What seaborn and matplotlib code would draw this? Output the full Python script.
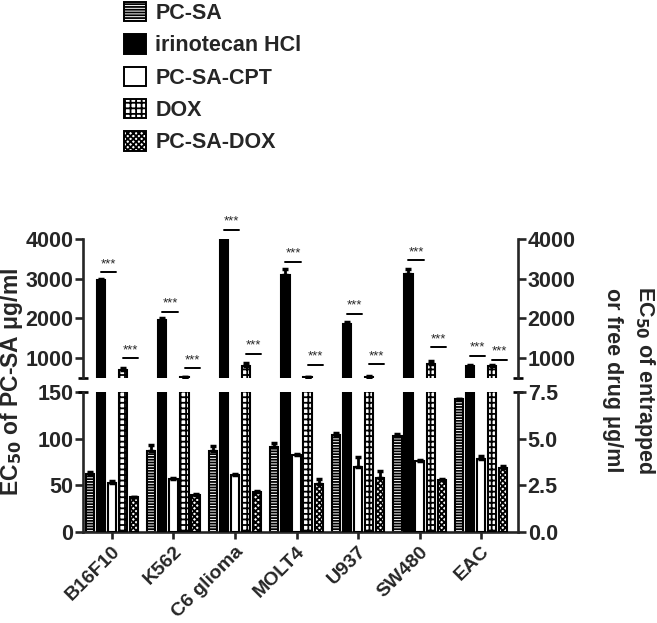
import numpy as np
import pandas as pd
import matplotlib
matplotlib.use("Agg")
import matplotlib.pyplot as plt
from matplotlib.patches import Patch
import seaborn as sns

# ---------------- data ----------------
cells = ["B16F10", "K562", "C6 glioma", "MOLT4", "U937", "SW480", "EAC"]
series = ["PC-SA", "irinotecan HCl", "PC-SA-CPT", "DOX", "PC-SA-DOX"]

pcsa = [62, 87, 87, 91, 104, 103, 142]           # left axis (ug/ml)
pcsa_err = [2, 6, 5, 4, 2, 2, 1]
irino = [2960, 1960, 4000, 3100, 1870, 3130, 810]  # drug scale (upper panel)
irino_err = [30, 40, 0, 140, 30, 110, 25]
pcsa_cpt = [2.65, 2.85, 3.05, 4.1, 3.5, 3.8, 3.9]   # right axis
pcsa_cpt_err = [0.06, 0.06, 0.06, 0.06, 0.5, 0.06, 0.15]
dox = [700, 525, 800, 530, 535, 840, 800]
dox_err = [50, 5, 80, 5, 5, 80, 15]
pcsa_dox = [1.85, 2.0, 2.15, 2.55, 2.9, 2.8, 3.45]
pcsa_dox_err = [0.05, 0.05, 0.05, 0.3, 0.35, 0.05, 0.08]

sig_y_irino = [3160, 2170, 4230, 3430, 2115, 3470, 1060]
sig_y_dox = [1000, 750, 1110, 835, 850, 1280, 960]

left_ticks_top = [1000, 2000, 3000, 4000]
left_ticks_bot = [0, 50, 100, 150]
right_ticks_bot = [0.0, 2.5, 5.0, 7.5]

values = {"PC-SA": (pcsa, pcsa_err), "irinotecan HCl": (irino, irino_err),
          "PC-SA-CPT": (pcsa_cpt, pcsa_cpt_err), "DOX": (dox, dox_err),
          "PC-SA-DOX": (pcsa_dox, pcsa_dox_err)}

style = {"PC-SA": dict(fc="white", hatch="------"),
         "irinotecan HCl": dict(fc="black", hatch=None),
         "PC-SA-CPT": dict(fc="white", hatch=None),
         "DOX": dict(fc="white", hatch="+++"),
         "PC-SA-DOX": dict(fc="white", hatch="xxxxxx")}

# ---------------- style ----------------
sns.set_style("ticks")
plt.rcParams["font.family"] = ["Liberation Sans", "DejaVu Sans"]
plt.rcParams["font.weight"] = "bold"
plt.rcParams["hatch.linewidth"] = 1.3
plt.rcParams["axes.linewidth"] = 1.9

fig = plt.figure(figsize=(6.57, 6.23), dpi=100)
L, W = 83 / 657, (518 - 83) / 657
ax_t = fig.add_axes([L, 1 - 378 / 623, W, (378 - 239) / 623])
ax_b = fig.add_axes([L, 1 - 532 / 623, W, (532 - 392) / 623])
ax_br = ax_b.twinx()

positions = {}


def draw(ax, name):
    vals, errs = values[name]
    df = pd.DataFrame({"cell": cells, "value": vals, "series": name})
    n0 = len(ax.patches)
    sns.barplot(data=df, x="cell", y="value", hue="series", hue_order=series,
                order=cells, width=0.9, gap=0.26, dodge=True, errorbar=None,
                legend=False, ax=ax)
    new = ax.patches[n0:]
    st = style[name]
    xs, tops, es = [], [], []
    for p in new:
        p.set_facecolor(st["fc"])
        p.set_edgecolor("black")
        p.set_linewidth(1.5)
        if st["hatch"]:
            p.set_hatch(st["hatch"])
        xc = p.get_x() + p.get_width() / 2
        i = int(round(xc))
        positions.setdefault(name, {})[i] = (xc, p.get_width())
        xs.append(xc)
        tops.append(p.get_height())
        es.append(errs[i])
    es = np.array(es)
    ax.errorbar(xs, tops, yerr=[np.zeros_like(es), es], fmt="none",
                ecolor="black", elinewidth=2, capsize=2.5, capthick=2.5)


for name in series:
    if name == "PC-SA":
        draw(ax_b, name)
    else:
        draw(ax_br, name)
for name in ["irinotecan HCl", "DOX"]:
    draw(ax_t, name)

xlim = (-0.47, 6.6)
for ax in (ax_t, ax_b, ax_br):
    ax.set_xlim(*xlim)
    ax.set_xlabel("")
    ax.set_ylabel("")

ax_t.set_ylim(500, 4000)
ax_b.set_ylim(0, 150)
ax_br.set_ylim(0, 7.5)

tick_kw = dict(length=6, width=1.9, labelsize=15.5, direction="out", pad=1)
ax_t.set_yticks(left_ticks_top)
ax_t.tick_params(axis="y", left=True, right=True, labelleft=True,
                 labelright=True, **tick_kw)
ax_t.tick_params(axis="x", bottom=False, labelbottom=False)
for s in ["top", "bottom"]:
    ax_t.spines[s].set_visible(False)
ax_t.spines["right"].set_visible(True)

ax_b.set_yticks(left_ticks_bot)
ax_b.tick_params(axis="y", **tick_kw)
ax_br.set_yticks(right_ticks_bot)
ax_br.set_yticklabels([f"{v:.1f}" for v in right_ticks_bot])
ax_br.tick_params(axis="y", **tick_kw)
ax_b.spines["top"].set_visible(False)
ax_br.spines["top"].set_visible(False)
ax_b.spines["right"].set_visible(False)
ax_br.spines["left"].set_visible(False)
ax_br.spines["bottom"].set_visible(False)
ax_br.spines["right"].set_visible(True)
ax_br.spines["right"].set_linewidth(1.9)

ax_b.set_xticks(range(len(cells)))
ax_b.set_xticklabels(cells, rotation=45, ha="right", va="top",
                     rotation_mode="anchor", fontsize=14, fontweight="bold")
ax_b.tick_params(axis="x", length=5, width=1.9, pad=3)
ax_br.tick_params(axis="x", bottom=False, labelbottom=False)
for lab in ax_t.get_yticklabels() + ax_b.get_yticklabels() + ax_br.get_yticklabels():
    lab.set_fontweight("bold")

# break caps
cap = 0.011
for ax, y in ((ax_t, 0), (ax_b, 1)):
    for x0 in (0, 1):
        ax.plot([x0 - cap, x0 + cap], [y, y], transform=ax.transAxes,
                color="black", lw=1.9, clip_on=False, solid_capstyle="butt")

# significance marks
for i in range(len(cells)):
    for a, b, yv in (("irinotecan HCl", "PC-SA-CPT", sig_y_irino[i]),
                     ("DOX", "PC-SA-DOX", sig_y_dox[i])):
        xa = positions[a][i][0]
        xb, wb = positions[b][i]
        x1 = xb + wb / 2
        ax_t.plot([xa, x1], [yv, yv], color="black", lw=1.4, clip_on=False)
        ax_t.annotate("***", ((xa + x1) / 2, yv), xytext=(0, 1.5),
                      textcoords="offset points", ha="center", va="bottom",
                      fontsize=9.5, fontweight="normal", annotation_clip=False)

# axis labels
fig.text(12 / 657, 1 - 382 / 623, "EC$_{\\mathbf{50}}$ of PC-SA \u03bcg/ml",
         rotation=90, ha="center", va="center", fontsize=16.5, fontweight="bold")
fig.text(645 / 657, 1 - 380 / 623, "EC$_{\\mathbf{50}}$ of entrapped",
         rotation=270, ha="center", va="center", fontsize=15.5, fontweight="bold")
fig.text(613 / 657, 1 - 380 / 623, "or free drug \u03bcg/ml",
         rotation=270, ha="center", va="center", fontsize=15.5, fontweight="bold")

# legend
handles = [Patch(facecolor=style[s]["fc"], edgecolor="black",
                 hatch=style[s]["hatch"], linewidth=1.4) for s in series]
leg = fig.legend(handles, series, loc="upper left",
                 bbox_to_anchor=(124 / 657, 1 - 2 / 623), frameon=False,
                 borderpad=0, borderaxespad=0, handlelength=1.0,
                 handleheight=1.0, handletextpad=0.45, labelspacing=0.48,
                 prop={"size": 15.5, "weight": "bold"})

fig.savefig("out.png", dpi=100)
